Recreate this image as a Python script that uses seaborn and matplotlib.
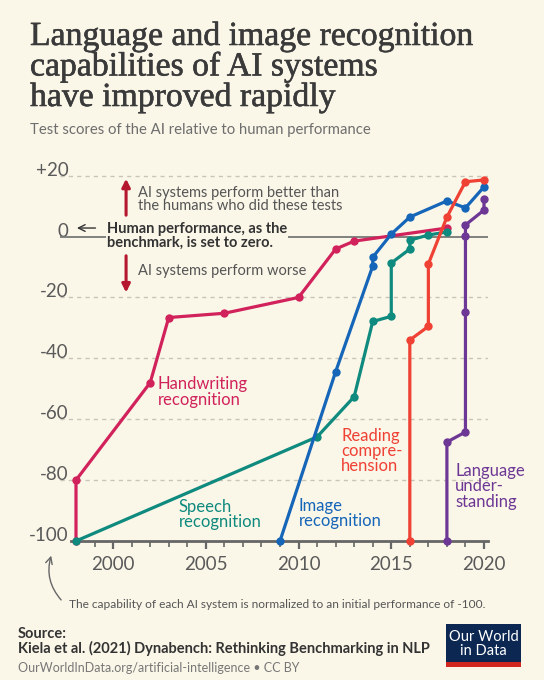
import matplotlib
matplotlib.use('Agg')
import matplotlib.pyplot as plt
import matplotlib.patheffects as pe
import numpy as np
import pandas as pd
import seaborn as sns

# data
hand_year = [1998, 1998, 2002, 2003, 2006, 2010, 2012, 2013, 2018]
hand_val = [-100, -80, -48, -26.6, -25.2, -20, -4.1, -1.5, 2.8]

speech_year = [1998, 2011, 2013, 2014, 2015, 2015, 2016, 2016, 2017, 2018]
speech_val = [-100, -65.8, -52.6, -27.9, -26.2, -8.7, -4.1, -1.2, 0.5, 1.5]

image_year = [2009, 2012, 2014, 2014, 2015, 2016, 2018, 2019, 2020]
image_val = [-100, -44.4, -9.7, -6.8, 0.8, 6.4, 11.7, 9.4, 16.3]

reading_year = [2016, 2016, 2017, 2017, 2018, 2019, 2020]
reading_val = [-100, -34, -29.5, -9, 6.4, 18, 18.6]

lang_year = [2018, 2018, 2019, 2019, 2019, 2019, 2020, 2020]
lang_val = [-100, -67.5, -64.2, -24.9, 0.2, 3.8, 8.7, 12.4]

yticks = [-100, -80, -60, -40, -20, 0, 20]
ytick_labels = ['-100', '-80', '-60', '-40', '-20', '0', '+20']
xticks = [2000, 2005, 2010, 2015, 2020]

BG = '#faf6e8'
sns.set_theme(style='white')
plt.rcParams['font.family'] = ['Lato', 'DejaVu Sans']

series = [
    ('Handwriting\nrecognition', hand_year, hand_val, '#d1225b'),
    ('Speech\nrecognition', speech_year, speech_val, '#0f8a7e'),
    ('Image\nrecognition', image_year, image_val, '#1565b8'),
    ('Reading\ncompre-\nhension', reading_year, reading_val, '#ef4134'),
    ('Language\nunder-\nstanding', lang_year, lang_val, '#6d3795'),
]

W, H = 544, 680
fig = plt.figure(figsize=(W / 100, H / 100), dpi=100, facecolor=BG)
# axes box in pixels: left 60, right 488, top 172, bottom 541
ax = fig.add_axes([60 / W, (H - 541) / H, 428 / W, 369 / H])
ax.set_facecolor(BG)

def px(x, y):
    return x / W, 1 - y / H

# gridlines
for v in [-80, -60, -40, -20, 20]:
    ax.axhline(v, color='#c8c4b8', lw=1, ls=(0, (3, 3)), zorder=0)
ax.axhline(0, color='#777777', lw=1.3, zorder=1)

for name, xs, ys, c in series:
    d = pd.DataFrame({'year': xs, 'value': ys})
    sns.lineplot(data=d, x='year', y='value', ax=ax, sort=False, estimator=None,
                 color=c, lw=2.3, marker='o', markersize=6, markeredgewidth=0,
                 clip_on=False, zorder=3)

ax.set_xlim(1997.137, 2020.216)
ax.set_ylim(-100, 21.2)
for s in ['top', 'right', 'left']:
    ax.spines[s].set_visible(False)
ax.spines['bottom'].set_color('#666666')
ax.spines['bottom'].set_linewidth(2)
ax.spines['bottom'].set_bounds(1997.75, 2020.2)

ax.set_xticks(xticks)
ax.set_xticks(np.arange(1999, 2021), minor=True)
ax.tick_params(axis='x', which='major', length=6, width=1.6, color='#666666',
               labelsize=13.5, labelcolor='#5a5a5a', pad=5, bottom=True)
ax.tick_params(axis='x', which='minor', length=4, width=1.2, color='#666666', bottom=True)
ax.set_yticks(yticks, ytick_labels)
ax.tick_params(axis='y', length=0, labelsize=13.5, labelcolor='#5a5a5a', pad=-6)
for t in ax.get_yticklabels():
    t.set_va('baseline')
ax.set_xlabel('')
ax.set_ylabel('')

# series labels
label_pos = [(2002.42, -51.1), (2003.55, -91.3), (2010.02, -91.0), (2012.29, -70.4), (2018.44, -82.0)]
for (name, xs, ys, c), (lx, ly) in zip(series, label_pos):
    ax.text(lx, ly, name, color=c, fontsize=12, va='center', ha='left', linespacing=0.95)

# annotations around the zero line
arrow_red = '#b5172e'
ax.annotate('', xy=(2000.7, 19.9), xytext=(2000.7, 6.1),
            arrowprops=dict(arrowstyle='-|>', color=arrow_red, lw=2.2, mutation_scale=12))
ax.annotate('', xy=(2000.7, -19.3), xytext=(2000.7, -5.4),
            arrowprops=dict(arrowstyle='-|>', color=arrow_red, lw=2.2, mutation_scale=12))
ax.text(2001.34, 12.2, 'AI systems perform better than\nthe humans who did these tests',
        fontsize=10.5, color='#555555', va='center', ha='left', linespacing=0.95)
ax.text(2001.34, -11.3, 'AI systems perform worse',
        fontsize=10.5, color='#555555', va='center', ha='left')
ax.text(1999.67, 0.2, 'Human performance, as the\nbenchmark, is set to zero.',
        fontsize=10.5, color='#333333', fontweight='bold', va='center', ha='left',
        linespacing=0.95, bbox=dict(facecolor=BG, edgecolor='none', pad=0.5), zorder=4)
ax.annotate('', xy=(1997.9, 2.8), xytext=(1999.2, 2.8),
            arrowprops=dict(arrowstyle='->', color='#333333', lw=1))

# title and subtitle
title_lines = ['Language and image recognition', 'capabilities of AI systems', 'have improved rapidly']
for i, line in enumerate(title_lines):
    fig.text(*px(30, 45 + i * 30.5), line, family='Liberation Serif', fontsize=24.3,
             color='#3a3a3a', va='baseline', ha='left',
             path_effects=[pe.withStroke(linewidth=0.4, foreground='#3a3a3a')])
fig.text(*px(30, 130), 'Test scores of the AI relative to human performance',
         fontsize=10.7, color='#6e6e6e', va='center', ha='left')

# footnote with curved arrow
fig.text(*px(69, 604), 'The capability of each AI system is normalized to an initial performance of -100.',
         fontsize=8.6, color='#555555', va='center', ha='left')
ax.annotate('', xy=(52, H - 553), xycoords='figure pixels', xytext=(63, H - 602),
            textcoords='figure pixels',
            arrowprops=dict(arrowstyle='->', color='#666666', lw=1,
                            connectionstyle='arc3,rad=-0.3'))

# source
fig.text(*px(18, 634), 'Source:', fontsize=10.5, fontweight='bold', color='#333333', va='center')
fig.text(*px(18, 648), 'Kiela et al. (2021) Dynabench: Rethinking Benchmarking in NLP',
         fontsize=10.5, fontweight='bold', color='#333333', va='center')
fig.text(*px(18, 668), 'OurWorldInData.org/artificial-intelligence \u2022 CC BY',
         fontsize=9, color='#777777', va='center')

# logo
fig.patches.append(plt.Rectangle(px(446, 667), 75 / W, 43 / H, transform=fig.transFigure,
                                 facecolor='#0b2752', edgecolor='none'))
fig.patches.append(plt.Rectangle(px(446, 667), 75 / W, 5 / H, transform=fig.transFigure,
                                 facecolor='#d0281f', edgecolor='none'))
fig.text(*px(483.5, 644), 'Our World\nin Data', fontsize=10.5, color='white',
         ha='center', va='center', linespacing=0.95)

fig.savefig('out.png', dpi=100, facecolor=BG)
